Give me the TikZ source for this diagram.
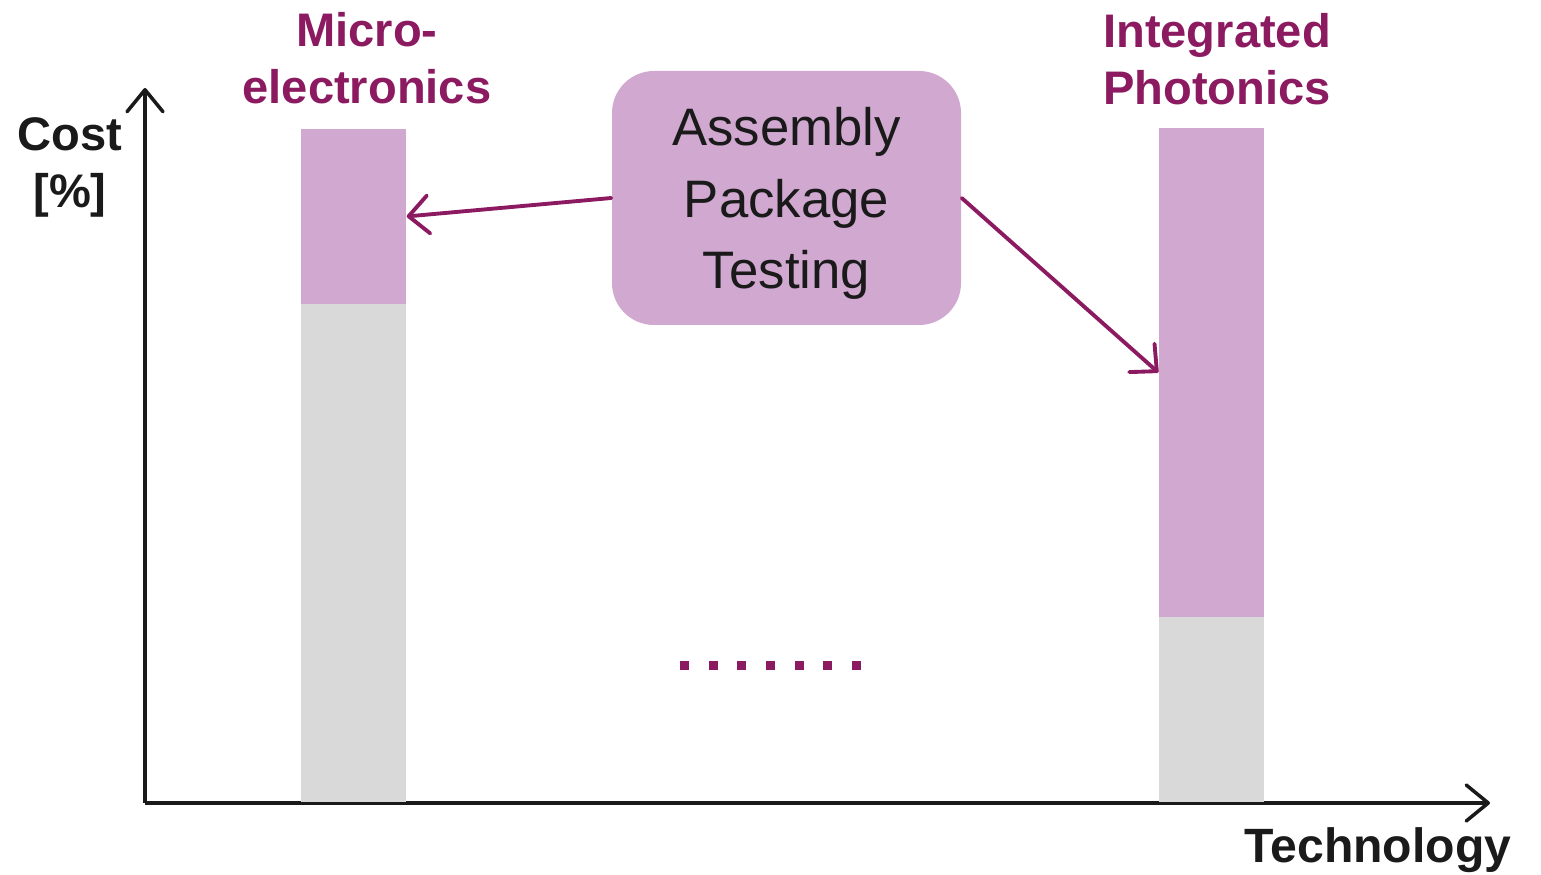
\documentclass[tikz,border=0pt]{standalone}
\usepackage{fontspec}
\setmainfont{Liberation Sans}
\usetikzlibrary{arrows.meta, positioning}

\definecolor{plum}{HTML}{8C1A60}
\definecolor{lilac}{HTML}{D0A8D0}
\definecolor{bargray}{HTML}{D9D9D9}
\definecolor{ink}{HTML}{1A1A1A}

\begin{document}
\begin{tikzpicture}[
  bar/.style={rectangle, minimum width=1.05cm, inner sep=0pt, anchor=south},
  axis/.style={-{Straight Barb[length=2.2mm, width=3.6mm, round]}, line width=1pt, ink},
  pointer/.style={-{Straight Barb[length=2mm, width=3.8mm, round]}, line width=1.1pt, plum, line cap=round},
  title/.style={font=\fontsize{13.4}{16.2}\selectfont\bfseries, align=center}
]
\useasboundingbox (0,0) rectangle (15.41,8.74);

% Axes
\coordinate (o) at (1.45,0.71);
\coordinate (ytop) at (1.45,7.86);
\coordinate (xend) at (14.90,0.71);
\draw[axis] (o) -- (ytop);
\draw[axis] (o) -- (xend);

\node[title, ink] (cost) at (0.70,7.07) {Cost\\{[}\%{]}};
\node[title, ink, font=\fontsize{13.7}{16.2}\selectfont\bfseries] (tech) at (13.78,0.24) {Technology};

% Bars
\node[bar, fill=bargray, minimum height=4.98cm] (microlow) at (3.535,0.71) {};
\node[bar, fill=lilac, minimum height=1.75cm, above=-0.3pt of microlow] (microhigh) {};
\node[bar, fill=bargray, minimum height=1.85cm] (photolow) at (12.115,0.71) {};
\node[bar, fill=lilac, minimum height=4.89cm, above=-0.3pt of photolow] (photohigh) {};

\node[title, plum] (micro) at (3.67,8.16) {Micro-\\electronics};
\node[title, plum] (photo) at (12.17,8.15) {Integrated\\Photonics};

% Cost share box
\node[rectangle, rounded corners=0.42cm, fill=lilac, minimum width=3.49cm, minimum height=2.54cm,
  align=center, text=ink, font=\fontsize{15}{20.4}\selectfont] (share) at (7.865,6.76)
  {\rule{0pt}{14pt}Assembly\\Package\\Testing};

\draw[pointer] (share.west) -- (microhigh.east);
\draw[pointer] (share.east) -- (photohigh.west);

% Dots in between
\foreach \i in {0,...,6}
  \fill[plum] ({6.80+0.2867*\i},2.045) rectangle ++(0.09,0.09);

\end{tikzpicture}
\end{document}
